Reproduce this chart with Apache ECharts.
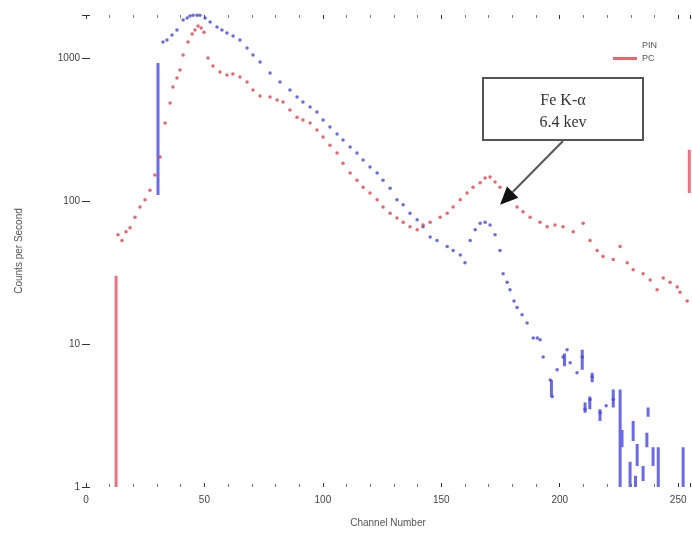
<!DOCTYPE html>
<html><head><meta charset="utf-8">
<script src="https://cdn.jsdelivr.net/npm/echarts@6/dist/echarts.min.js"></script>
<style>html,body{margin:0;padding:0;background:#fff}#c{width:692px;height:540px}</style>
</head><body><div id="c"></div>
<script>
// ---- data ----
const xTickValues = [0, 50, 100, 150, 200, 250];
const yTickValues = [1, 10, 100, 1000];

// PIN detector (blue)
const pinChannels = [32.5,34.2,36.3,38.4,41,42.7,43.9,45.2,46.9,48.1,50.3,52.4,55.3,57.4,59.5,62.1,65,68,70.5,73.5,77.7,81.9,86.1,89.1,91.6,94.6,97.5,100.1,103,106,108.5,111.5,114.4,117,119.9,122.9,125.4,128.4,131.3,133.9,136.8,139.8,142.3,145.3,148.2,152.5,155,158,160,162.2,164.3,166.4,168.5,170.6,172.7,174.8,176.1,177.8,179,180.7,182,184.1,186.2,188.8,190.5,191.7,193,196,196.8,198.9,201.4,203.1,204.4,207.3,209.5,210.7,212.8,213.7,217.1,219.6,222.6];
const pinCounts   = [1294,1336,1448,1570,1844,1905,1966,1995,1990,1995,1905,1786,1648,1570,1496,1425,1336,1175,1050,938,785,679,597,533,492,454,419,368,329,294,267,239,217,194,173,157,140,123,102,94,82,74,66,56,53,48,45,42,37,53,63,70,71,68,58,45,31,27,24,20,18,16,14,11,11,10.7,8.1,5.6,4.3,6.6,8.1,9.1,7.4,6.3,8.1,3.5,4.1,5.9,3.3,3.7,4.1];
// vertical segments: [channel, low, high]
const pinSegments = [[30.4,110,925],[196.5,4.3,5.6],[202,7,8.6],[209.5,6.6,9.1],[213.7,5.4,6.3],[210.7,3.3,3.9],[212.7,3.5,4.3],[217,2.9,3.5],[222.6,3.6,4.8],[225.5,1,4.8],[226.3,1.9,2.5],[229.7,1,1.5],[231,2.1,2.9],[232,1,1.2],[232.7,1.4,2.0],[235.2,1.1,1.4],[236.8,1.9,2.4],[237.3,3.1,3.6],[239.4,1.4,1.9],[241.6,1,1.9],[252.1,1,1.9]];

// PC detector (red)
const pcChannels = [13.5,15.2,16.9,18.6,20.7,22.8,24.9,27,29.1,31.3,33.4,35.5,36.7,38.4,39.7,41,43.1,44.8,46,47.3,48.6,49.8,51.5,53.6,56.6,59.5,62,65,68,70.5,73.5,77.7,80.7,83.2,86.1,89.1,91.6,94.6,97.5,100.1,103,106,108.5,111.5,114.4,117,119.9,122.9,125.4,128.4,131.3,133.9,136.8,139.8,142.3,145.3,149.5,152.5,155,158,160.9,163.4,166.4,168.5,170.6,172.7,174.8,177.8,182,184.5,187.5,191.7,194.7,198,201.4,205.7,209.9,212.8,215.8,218.3,222.6,225.5,228.5,231,235.2,238.2,241.1,243.7,246.6,249.6,250.8,253.8];
const pcCounts   = [58,53,61,65,77,91,102,119,152,203,351,484,627,725,824,1050,1294,1472,1570,1675,1622,1515,1000,880,798,760,773,736,679,597,542,533,508,492,433,386,368,351,314,280,246,217,184,157,140,125,114,102,91,82,76,71,66,63,68,71,77,82,91,102,114,125,134,145,147,136,125,110,91,84,77,71,66,68,66,61,70,53,45,41,39,48,37,33,31,28,24,29,27,25,23,20];
const pcSegments = [[12.7,1,30],[254.7,114,228]];

const annotationLines = ['Fe K-\u03b1', '6.4 kev'];
const annotationTarget = [174.8, 94];

// ---- chart ----
const BLUE = '#4646dc', BLUE_LINE = '#6a6ae8';
const RED = '#e0404e', RED_LINE = '#ea7282';

function pts(xs, ys) { return xs.map((x, i) => [x, ys[i]]); }
function segs(list) {
  const out = [];
  list.forEach(s => { out.push([s[0], s[1]], [s[0], s[2]], [s[0], '-']); });
  return out;
}

const chart = echarts.init(document.getElementById('c'));
const tickStyle = { lineStyle: { color: '#333', width: 1 } };
const minorStyle = { show: true, splitNumber: 5, length: 3, lineStyle: { color: '#777' } };
const commonX = { type: 'value', min: 0, max: 255, interval: 50, splitLine: { show: false }, axisLine: { show: false } };
const commonY = { type: 'log', logBase: 10, min: 1, max: 2000, splitLine: { show: false }, axisLine: { show: false } };

chart.setOption({
  animation: false,
  grid: { left: 86, right: 2, top: 15, bottom: 53 },
  legend: {
    data: [{ name: 'PIN', itemStyle: { opacity: 0 } }, { name: 'PC' }],
    orient: 'vertical', left: 608, top: 36, itemWidth: 24, itemHeight: 3, itemGap: 4,
    icon: 'rect', textStyle: { fontSize: 9, color: '#555', fontFamily: 'Liberation Sans' }
  },
  xAxis: [
    Object.assign({}, commonX, {
      position: 'bottom',
      axisTick: Object.assign({ inside: true, length: 4 }, tickStyle),
      minorTick: minorStyle,
      axisLabel: { fontSize: 10, color: '#444', margin: 8, fontFamily: 'Liberation Sans',
        customValues: xTickValues, formatter: v => String(v) },
      name: 'Channel Number', nameLocation: 'middle', nameGap: 31,
      nameTextStyle: { fontSize: 10, color: '#555', fontFamily: 'Liberation Sans' }
    }),
    Object.assign({}, commonX, {
      position: 'top',
      axisTick: Object.assign({ inside: true, length: 4 }, tickStyle),
      minorTick: minorStyle,
      axisLabel: { show: false }
    })
  ],
  yAxis: [
    Object.assign({}, commonY, {
      position: 'left',
      axisTick: Object.assign({ inside: true, length: 4 }, tickStyle),
      axisLabel: { fontSize: 10, color: '#444', margin: 6, fontFamily: 'Liberation Sans',
        customValues: yTickValues, formatter: v => String(Math.round(v)) },
      name: 'Counts per Second', nameLocation: 'middle', nameGap: 62, nameRotate: 90,
      nameTextStyle: { fontSize: 10, color: '#555', fontFamily: 'Liberation Sans' }
    }),
    Object.assign({}, commonY, {
      position: 'right',
      axisTick: Object.assign({ inside: true, length: 4 }, tickStyle),
      axisLabel: { show: false }
    })
  ],
  series: [
    { name: 'PIN-seg', type: 'line', data: segs(pinSegments), symbol: 'none', connectNulls: false,
      lineStyle: { color: BLUE_LINE, width: 3 }, silent: true, z: 2 },
    { name: 'PIN', type: 'scatter', data: pts(pinChannels, pinCounts), symbol: 'circle', symbolSize: 3.5,
      itemStyle: { color: BLUE }, z: 3 },
    { name: 'PC-seg', type: 'line', data: segs(pcSegments), symbol: 'none', connectNulls: false,
      lineStyle: { color: RED_LINE, width: 3 }, silent: true, z: 4 },
    { name: 'PC', type: 'scatter', data: pts(pcChannels, pcCounts), symbol: 'circle', symbolSize: 3.5,
      itemStyle: { color: RED }, z: 5 }
  ]
});

// annotation box with arrow
const tip = chart.convertToPixel({ xAxisIndex: 0, yAxisIndex: 0 }, annotationTarget);
const box = { x: 483, y: 78, w: 160, h: 62 };
const start = [box.x + box.w / 2, box.y + box.h + 1];
const dx = tip[0] - start[0], dy = tip[1] - start[1];
const len = Math.sqrt(dx * dx + dy * dy), ux = dx / len, uy = dy / len;
const headLen = 18, headW = 8;
const base = [tip[0] - ux * headLen, tip[1] - uy * headLen];
const px = -uy, py = ux;
chart.setOption({
  graphic: [
    { type: 'rect', shape: { x: box.x, y: box.y, width: box.w, height: box.h },
      style: { fill: '#fff', stroke: '#555', lineWidth: 2 }, z: 10 },
    { type: 'text', x: box.x + box.w / 2, y: box.y + 23, z: 11,
      style: { text: annotationLines[0], font: '16px "Liberation Serif"', fill: '#333', align: 'center', verticalAlign: 'middle' } },
    { type: 'text', x: box.x + box.w / 2, y: box.y + 45, z: 11,
      style: { text: annotationLines[1], font: '16px "Liberation Serif"', fill: '#333', align: 'center', verticalAlign: 'middle' } },
    { type: 'line', shape: { x1: start[0], y1: start[1], x2: base[0], y2: base[1] },
      style: { stroke: '#555', lineWidth: 2 }, z: 10 },
    { type: 'polygon', shape: { points: [tip, [base[0] + px * headW, base[1] + py * headW], [base[0] - px * headW, base[1] - py * headW]] },
      style: { fill: '#111' }, z: 10 }
  ]
});
</script>
</body></html>
